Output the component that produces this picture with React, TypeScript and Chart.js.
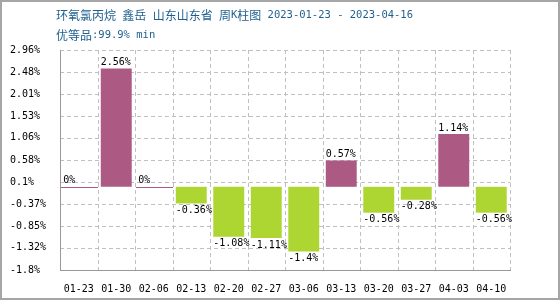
import React, { useEffect, useRef } from "react";
import { Chart, registerables } from "chart.js";

Chart.register(...registerables);

const categories = ["01-23", "01-30", "02-06", "02-13", "02-20", "02-27", "03-06", "03-13", "03-20", "03-27", "04-03", "04-10"];
const changes = [0, 2.56, 0, -0.36, -1.08, -1.11, -1.4, 0.57, -0.56, -0.28, 1.14, -0.56];
const yTickValues = [2.96, 2.48, 2.01, 1.53, 1.06, 0.58, 0.1, -0.37, -0.85, -1.32, -1.8];
const titleLine1 = "环氧氯丙烷 鑫岳 山东山东省 周K柱图 2023-01-23 - 2023-04-16";
const titleLine2 = "优等品:99.9% min";

const PINK = "#AC5A84";
const GREEN = "#ADD633";
const MONO = "'DejaVu Sans Mono', 'Liberation Mono', monospace";
const CJK = "'Noto Sans CJK SC', sans-serif";

function drawMixed(ctx: CanvasRenderingContext2D, text: string, x: number, y: number) {
  const runs: { cjk: boolean; s: string }[] = [];
  for (const ch of text) {
    const cjk = /[\u3000-\u9fff\uff00-\uffef]/.test(ch);
    const last = runs[runs.length - 1];
    if (last && last.cjk === cjk) last.s += ch;
    else runs.push({ cjk, s: ch });
  }
  let cx = x;
  for (const r of runs) {
    ctx.font = r.cjk ? `12px ${CJK}` : `10.5px ${MONO}`;
    ctx.fillText(r.s, cx, y);
    cx += ctx.measureText(r.s).width;
  }
}

function dashedLine(ctx: CanvasRenderingContext2D, x1: number, y1: number, x2: number, y2: number) {
  const dash = 4;
  const gap = 3;
  if (y1 === y2) {
    for (let x = x1; x < x2; x += dash + gap) ctx.fillRect(x, y1, Math.min(dash, x2 - x), 1);
  } else {
    for (let y = y1; y < y2; y += dash + gap) ctx.fillRect(x1, y, 1, Math.min(dash, y2 - y));
  }
}

const decorPlugin = {
  id: "decor",
  afterDraw(chart: any) {
    const ctx = chart.ctx as CanvasRenderingContext2D;
    const xs = chart.scales.x;
    const ys = chart.scales.y;
    const a = chart.chartArea;
    const L = Math.round(a.left);
    const R = Math.round(a.right);
    const T = Math.round(a.top);
    const B = Math.round(a.bottom);
    const half = (xs.getPixelForValue(1) - xs.getPixelForValue(0)) / 2;
    const zeroY = Math.round(ys.getPixelForValue(0));
    const meta = chart.getDatasetMeta(0);

    ctx.fillStyle = "#ffffff";
    ctx.fillRect(L, T - 1, R - L + 2, B - T + 2);

    ctx.fillStyle = "#c0c0c0";
    for (const v of yTickValues) {
      const y = Math.round(ys.getPixelForValue(v));
      dashedLine(ctx, L, y, R, y);
    }
    for (let i = 0; i < categories.length; i++) {
      const x = Math.round(xs.getPixelForValue(i) + half);
      dashedLine(ctx, x, T, x, B);
    }
    ctx.fillStyle = "#999999";
    ctx.fillRect(L, T, 1, B - T + 1);
    ctx.fillRect(L, B, R - L + 1, 1);

    meta.data.forEach((bar: any) => bar.draw(ctx));

    ctx.fillStyle = PINK;
    changes.forEach((v, i) => {
      if (v === 0) {
        const cx = xs.getPixelForValue(i);
        const x0 = Math.round(cx - half + 1);
        const x1 = Math.round(cx + half);
        ctx.fillRect(x0, zeroY, x1 - x0, 1);
      }
    });

    ctx.font = `10px ${MONO}`;
    ctx.fillStyle = "#000000";
    ctx.textAlign = "left";
    meta.data.forEach((bar: any, i: number) => {
      const v = changes[i];
      const left = bar.x - bar.width / 2;
      const label = `${v}%`;
      if (v >= 0) {
        ctx.textBaseline = "bottom";
        ctx.fillText(label, left, Math.min(bar.y, bar.base) - 1);
      } else {
        ctx.textBaseline = "top";
        ctx.fillText(label, left, Math.max(bar.y, bar.base) + 2);
      }
    });

    ctx.fillStyle = "#1e5f8e";
    ctx.textBaseline = "middle";
    ctx.textAlign = "left";
    drawMixed(ctx, titleLine1, 56, 15);
    drawMixed(ctx, titleLine2, 56, 35);

    ctx.fillStyle = "#a6a6a6";
    ctx.fillRect(0, 0, chart.width, 2);
    ctx.fillRect(0, chart.height - 2, chart.width, 2);
    ctx.fillRect(0, 0, 2, chart.height);
    ctx.fillRect(chart.width - 2, 0, 2, chart.height);
  },
};

export default function App() {
  const ref = useRef<HTMLCanvasElement | null>(null);
  useEffect(() => {
    if (!ref.current) return;
    const chart = new Chart(ref.current, {
      type: "bar",
      data: {
        labels: categories,
        datasets: [
          {
            data: changes,
            backgroundColor: changes.map((v) => (v >= 0 ? PINK : GREEN)),
            borderWidth: 0,
            barPercentage: 0.825,
            categoryPercentage: 1,
          },
        ],
      },
      options: {
        responsive: false,
        animation: false,
        layout: { padding: { left: 10, right: 50, top: 50, bottom: 0 } },
        plugins: { legend: { display: false }, tooltip: { enabled: false }, title: { display: false } },
        scales: {
          x: {
            offset: true,
            grid: { display: false },
            border: { display: false },
            ticks: { color: "#000", font: { family: MONO, size: 10 }, padding: 5, maxRotation: 0, autoSkip: false },
            afterFit: (s: any) => {
              s.height = 30;
            },
          },
          y: {
            min: -1.8,
            max: 2.96,
            grid: { display: false },
            border: { display: false },
            ticks: {
              color: "#000",
              font: { family: MONO, size: 10 },
              crossAlign: "far",
              padding: 0,
              callback: (v: any) => `${v}%`,
            },
            afterBuildTicks: (s: any) => {
              s.ticks = yTickValues.map((v) => ({ value: v }));
            },
            afterFit: (s: any) => {
              s.width = 50;
            },
          },
        },
      },
      plugins: [decorPlugin],
    } as any);
    return () => chart.destroy();
  }, []);
  return (
    <div style={{ position: "fixed", left: 0, top: 0, width: 560, height: 300, background: "#fff" }}>
      <canvas ref={ref} width={560} height={300} style={{ width: 560, height: 300, display: "block" }} />
    </div>
  );
}
